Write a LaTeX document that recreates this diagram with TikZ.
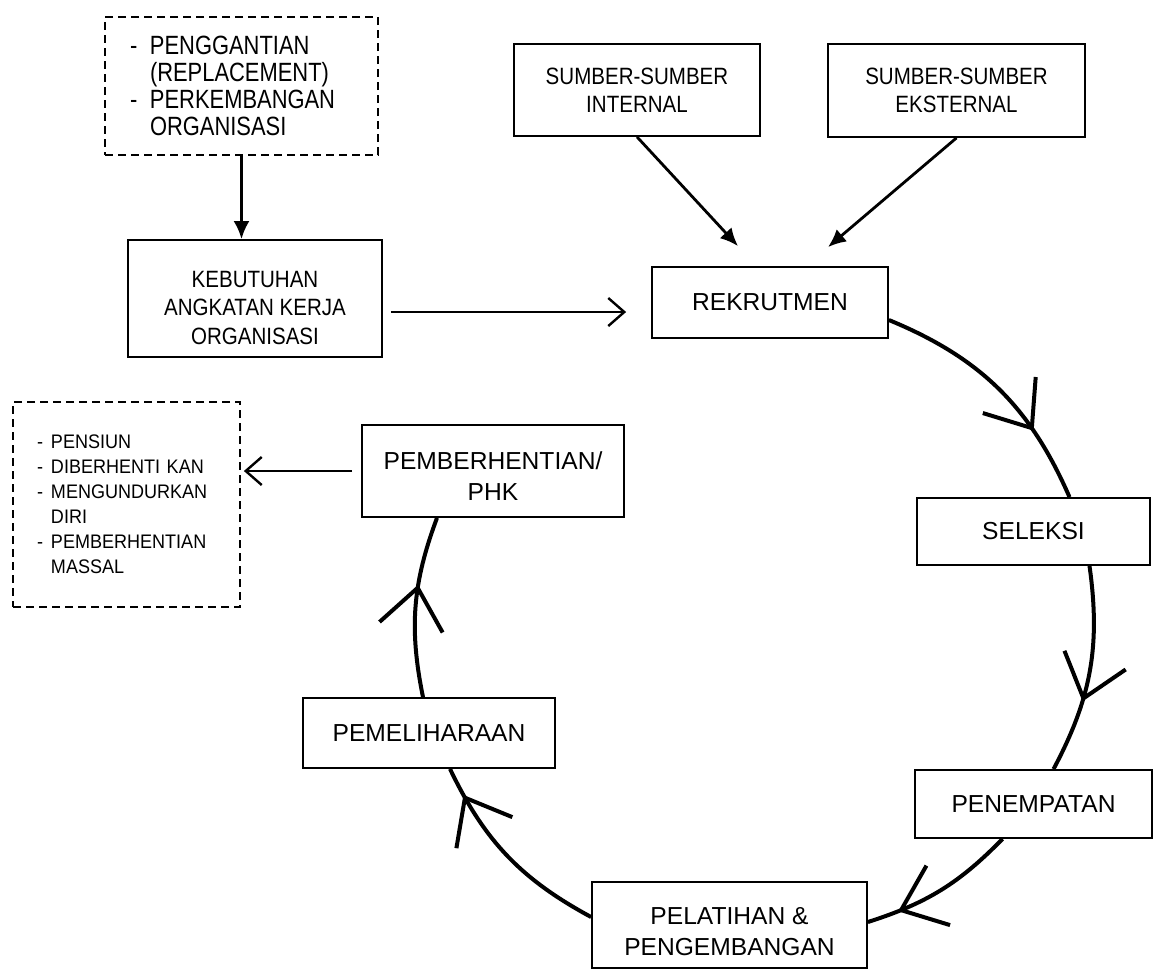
\documentclass[tikz,border=0pt]{standalone}
\usepackage{fontspec}
\setmainfont{Liberation Sans}
\newfontfamily\condfont[FakeStretch=0.87]{Liberation Sans}
\newfontfamily\notefont[FakeStretch=0.83]{Liberation Sans}
\newfontfamily\listfont[FakeStretch=0.92]{Liberation Sans}
\usetikzlibrary{arrows.meta,decorations.markings}

\begin{document}
\begin{tikzpicture}[x=0.5pt,y=-0.5pt,
    box/.style={draw, line width=0.9pt, align=center, inner sep=0pt,
      font=\fontsize{12.3}{15.2}\selectfont},
    srcbox/.style={box, font=\condfont\fontsize{11.8}{14.2}\selectfont},
    notebox/.style={draw, dash pattern=on 4pt off 2.5pt, line width=0.9pt, align=left, inner ysep=0pt},
    arr/.style={line width=1.4pt, -{Latex[length=9pt,width=8pt]}},
    openarr/.style={line width=1.2pt, -{Straight Barb[length=8pt,width=14pt]}},
    siklus/.style={line width=2pt, postaction={decorate},
      decoration={markings, mark=at position #1 with {\arrow{Straight Barb[length=20pt,width=32pt]}}}}
  ]
    \useasboundingbox (0,0) rectangle (1156,971);

    \node[notebox, inner xsep=12.5pt, text width=111.5pt, minimum height=69pt,
      font=\notefont\fontsize{13.2}{13.5}\selectfont] (need) at (241.5,86) {
        \makebox[10pt][l]{-}PENGGANTIAN\\
        \hspace*{10pt}(REPLACEMENT)\\
        \makebox[10pt][l]{-}PERKEMBANGAN\\
        \hspace*{10pt}ORGANISASI};
    \node[srcbox, minimum width=127pt, minimum height=58.5pt] (kebutuhan) at (255,298.5) {\rule{0pt}{17.5pt}KEBUTUHAN\\ANGKATAN KERJA\\ORGANISASI};
    \node[srcbox, minimum width=123pt, minimum height=46pt] (internal) at (637,90) {SUMBER-SUMBER\\INTERNAL};
    \node[srcbox, minimum width=128.5pt, minimum height=46.5pt] (eksternal) at (956.5,90.5) {SUMBER-SUMBER\\EKSTERNAL};

    \node[box, minimum width=118pt, minimum height=35.5pt] (rekrutmen) at (770,302.5) {REKRUTMEN};
    \node[box, minimum width=116.5pt, minimum height=33.5pt] (seleksi) at (1033.5,531.5) {SELEKSI};
    \node[box, minimum width=118.5pt, minimum height=34pt] (penempatan) at (1033.5,804) {PENEMPATAN};
    \node[box, minimum width=137.5pt, minimum height=43pt] (pelatihan) at (729.5,925) {\rule{0pt}{15pt}PELATIHAN \&\\PENGEMBANGAN};
    \node[box, minimum width=126pt, minimum height=35pt] (pemeliharaan) at (429,733) {PEMELIHARAAN};
    \node[box, minimum width=131pt, minimum height=46pt] (phk) at (493,471) {\rule{0pt}{14pt}PEMBERHENTIAN/\\PHK};

    \node[notebox, inner xsep=12pt, text width=89.5pt, minimum height=102.5pt,
      font=\listfont\fontsize{9.8}{12.5}\selectfont] (keluar) at (126.5,504.5) {
        \makebox[7pt][l]{-}PENSIUN\\
        \makebox[7pt][l]{-}DIBERHENTI KAN\\
        \makebox[7pt][l]{-}MENGUNDURKAN\\
        \hspace*{7pt}DIRI\\
        \makebox[7pt][l]{-}PEMBERHENTIAN\\
        \hspace*{7pt}MASSAL};

    \draw[arr] (need.south) -- (need.south |- kebutuhan.north);
    \draw[arr] (internal.south) -- ([shift={(-32,-20)}]rekrutmen.north);
    \draw[arr] (eksternal.south) -- ([shift={(58,-19)}]rekrutmen.north);
    \draw[openarr] ([shift={(8,13.5)}]kebutuhan.east) -- ([shift={(-25,9.5)}]rekrutmen.west);
    \draw[openarr] ([xshift=-4.5pt]phk.west) -- ([xshift=1.5pt]keluar.east |- phk.west);

    \draw[siklus=0.71] ([yshift=-8.75pt]rekrutmen.east) to[bend left=22] ([xshift=18pt]seleksi.north);
    \draw[siklus=0.65] ([xshift=28pt]seleksi.south) to[bend left=18] ([xshift=10pt]penempatan.north);
    \draw[siklus=0.8] ([xshift=-15.5pt]penempatan.south) to[bend left=14] ([yshift=1.5pt]pelatihan.east);
    \draw[siklus=0.86] ([yshift=4pt]pelatihan.west) to[bend left=18] ([xshift=10.5pt]pemeliharaan.south);
    \draw[siklus=0.62] ([xshift=-3pt]pemeliharaan.north) to[bend left=16] ([xshift=-28pt]phk.south);
\end{tikzpicture}
\end{document}
